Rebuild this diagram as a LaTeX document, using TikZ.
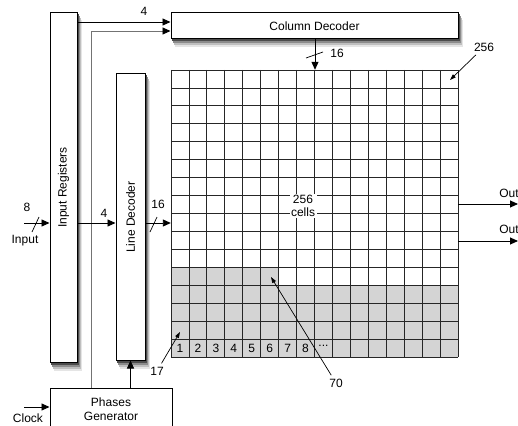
\documentclass[tikz,border=0pt]{standalone}
\usepackage{fontspec}
\setmainfont{Liberation Sans}
\usetikzlibrary{arrows.meta,positioning,backgrounds}

\definecolor{cellgray}{HTML}{D4D4D4}
\tikzset{
  block/.style={draw, fill=white, line width=1pt, inner sep=0pt},
  bus/.style={-{Triangle[length=8pt,width=7pt]}, line width=0.9pt},
  note/.style={-{Triangle[length=6pt,width=4pt]}, line width=0.7pt},
  gridline/.style={black!85, line width=0.8pt},
}
\def\cs{17.9375}

\begin{document}
\begin{tikzpicture}[x=1pt, y=-1pt, font=\fontsize{12}{14}\selectfont]
  \useasboundingbox (0,0) rectangle (518,425);

  \node[block, minimum width=287pt, minimum height=26pt] (coldec) at (314.5,26) {Column Decoder};
  \node[block, minimum width=27pt, minimum height=349pt,
        label={[rotate=90]center:Input Registers}] (inreg) at (63.5,187.5) {};
  \node[block, minimum width=29pt, minimum height=286pt,
        label={[rotate=90]center:Line Decoder}] (linedec) at (130.5,217) {};
  \node[block, minimum width=122pt, minimum height=42pt, anchor=north, align=center] (phases) at (111,388) {Phases\\Generator};

  % soft shadows under the three decoder/register blocks
  \begin{scope}[on background layer]
    \foreach \b in {coldec,inreg,linedec} {
      \fill[black!10] ([shift={(4,8)}]\b.north west) rectangle ([shift={(4,8)}]\b.south east);
      \fill[black!25] ([shift={(3,6)}]\b.north west) rectangle ([shift={(3,6)}]\b.south east);
      \fill[black!45] ([shift={(2,4)}]\b.north west) rectangle ([shift={(2,4)}]\b.south east);
      \fill[black!70] ([shift={(1,2)}]\b.north west) rectangle ([shift={(1,2)}]\b.south east);
    }
  \end{scope}

  % memory array, 16 x 16 cells
  \node[minimum size=287pt, inner sep=0pt] (grid) at (314.5,213.5) {};
  \fill[cellgray] (171,{357-4*\cs}) rectangle (458,357);
  \fill[cellgray] (171,{357-5*\cs}) rectangle ({171+6*\cs},{357-4*\cs});
  \foreach \i in {0,...,16} {
    \draw[gridline] ({171+\i*\cs},70) -- ({171+\i*\cs},357);
    \draw[gridline] (171,{70+\i*\cs}) -- (458,{70+\i*\cs});
  }
  \foreach \n in {1,...,8}
    \node at ({171+(\n-0.5)*\cs},348) {\n};
  \node at ({171+8.5*\cs},346) {...};
  \node[fill=white, align=center, inner sep=1.5pt, font=\fontsize{12}{13}\selectfont] (cells) at (303,206) {256\\cells};

  \coordinate (cd1) at ([yshift=4pt]coldec.west);
  \coordinate (cd2) at ([yshift=-5pt]coldec.west);
  \coordinate (in) at (24,223);
  \coordinate (clk) at (24,407);
  \coordinate (out1) at (518,204);
  \coordinate (out2) at (518,241);

  \draw[bus] (inreg.east |- cd1) -- (cd1);
  \draw[bus, draw=black!55, -{Triangle[length=8pt,width=7pt,black]}] (phases.north -| 91,0) |- (cd2);
  \draw[bus] (coldec.south -| 315,0) -- (grid.north -| 315,0);
  \draw[bus] (in) -- (in -| inreg.west);
  \draw[bus] (in -| inreg.east) -- (in -| linedec.west);
  \draw[bus] (in -| linedec.east) -- (in -| grid.west);
  \draw[bus] (phases.north -| linedec.south) -- (linedec.south);
  \draw[bus] (clk) -- (clk -| phases.west);
  \draw[bus] (grid.east |- out1) -- (out1);
  \draw[bus] (grid.east |- out2) -- (out2);

  % bus widths
  \draw[line width=0.7pt] (32,232) -- (39,217);
  \draw[line width=0.7pt] (150,232) -- (157,217);
  \draw[line width=0.7pt] (306,58) -- (323,52);
  \node (w8) at (27,207) {8};
  \node (w4a) at (104,213) {4};
  \node (w16a) at (158,204) {16};
  \node (w4b) at (144,11) {4};
  \node (w16b) at (337,53) {16};

  \node (inlabel) at (25,241) {Input};
  \node (clklabel) at (28,418) {Clock};
  \node (outlabel1) at (509,193) {Out};
  \node (outlabel2) at (509,229) {Out};

  \node (n256) at (484,47) {256};
  \node (n17) at (157,371) {17};
  \node (n70) at (336,383) {70};
  \coordinate (c256) at (450,80);
  \coordinate (c17) at (180,332);
  \coordinate (c70) at (271,277);
  \draw[note] (n256) -- (c256);
  \draw[note] (n17) -- (c17);
  \draw[note] (n70) -- (c70);
\end{tikzpicture}
\end{document}
